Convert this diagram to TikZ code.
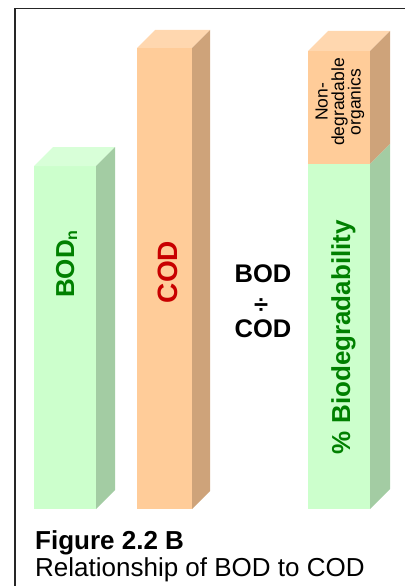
\documentclass[tikz,border=0pt]{standalone}
\usepackage{fontspec}
\setmainfont{Liberation Sans}
\usepackage{tikz}

\definecolor{greenfront}{RGB}{204,255,204}
\definecolor{greentop}{RGB}{216,255,216}
\definecolor{greenside}{RGB}{163,204,163}
\definecolor{orangefront}{RGB}{255,204,153}
\definecolor{orangetop}{RGB}{255,215,175}
\definecolor{orangeside}{RGB}{206,163,122}
\definecolor{textgreen}{RGB}{0,128,0}
\definecolor{textred}{RGB}{200,0,0}

\begin{document}
\begin{tikzpicture}[x=1pt, y=-1pt,
    barlabel/.style={inner sep=0pt, anchor=base, rotate=90, font=\bfseries},
    midlabel/.style={inner sep=0pt, anchor=base, font=\bfseries\fontsize{25.5}{28}\selectfont}]

        \useasboundingbox (0,0) rectangle (405,586);

        % Frame
        \draw[line width=1.3pt, black!85] (15,586) -- (15,8.5) -- (405,8.5);

        % BOD bar
        \fill[greenfront] (34,166) rectangle (96,509);
        \fill[greentop] (34,166) -- (53,147) -- (115,147) -- (96,166) -- cycle;
        \fill[greenside] (96,166) -- (115,147) -- (115,490) -- (96,509) -- cycle;

        % COD bar
        \fill[orangefront] (137,48) rectangle (192,509);
        \fill[orangetop] (137,48) -- (155,30) -- (210,30) -- (192,48) -- cycle;
        \fill[orangeside] (192,48) -- (210,30) -- (210,491) -- (192,509) -- cycle;

        % Biodegradability bar
        \fill[orangefront] (308,51) rectangle (370,164);
        \fill[greenfront] (308,164) rectangle (370,509);
        \fill[orangetop] (308,51) -- (328,31) -- (390,31) -- (370,51) -- cycle;
        \fill[orangeside] (370,51) -- (390,31) -- (390,144) -- (370,164) -- cycle;
        \fill[greenside] (370,164) -- (390,144) -- (390,489) -- (370,509) -- cycle;

        % Labels on the bars
        \node[barlabel, textgreen, font=\bfseries\fontsize{26}{30}\selectfont] (bodn) at (74,264)
            {BOD\raisebox{-3pt}{\fontsize{16}{16}\selectfont n}};
        \node[barlabel, textred, font=\bfseries\fontsize{28}{32}\selectfont] (cod) at (177,272) {COD};
        \node[barlabel, textgreen, font=\bfseries\fontsize{26}{30}\selectfont] (pbio) at (350,337) {\% Biodegradability};
        \node[inner sep=0pt, rotate=90, align=center, font=\fontsize{17.5}{16.5}\selectfont] (nondeg) at (340,102)
            {Non-\\degradable\\organics};

        % BOD divided by COD
        \node[midlabel] (bod) at (263,282) {BOD};
        \node[midlabel] (divide) at (261,313) {÷};
        \node[midlabel] (codb) at (263,337) {COD};

        % Caption
        \node[inner sep=0pt, anchor=base west, font=\bfseries\fontsize{26}{30}\selectfont] (figtitle) at (35,549) {Figure 2.2 B};
        \node[inner sep=0pt, anchor=base west, font=\fontsize{26}{30}\selectfont] (figtext) at (35,576) {Relationship of BOD to COD};
    \end{tikzpicture}
\end{document}
